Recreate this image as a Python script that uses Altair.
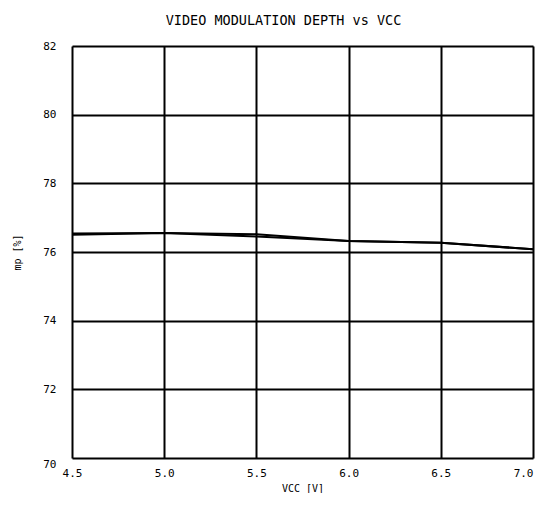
import altair as alt
import pandas as pd

vcc = [4.5, 5.0, 5.5, 6.0, 6.5, 7.0]
mp_a = [76.50, 76.55, 76.45, 76.32, 76.27, 76.08]
mp_b = [76.54, 76.55, 76.52, 76.32, 76.27, 76.08]

rows = []
for v, a in zip(vcc, mp_a):
    rows.append({"vcc": v, "mp": a, "s": "a"})
for v, b in zip(vcc, mp_b):
    rows.append({"vcc": v, "mp": b, "s": "b"})
df = pd.DataFrame(rows)

FONT = "DejaVu Sans Mono"

chart = alt.Chart(df).mark_line(color="black", strokeWidth=2).encode(
    x=alt.X("vcc:Q", scale=alt.Scale(domain=[4.5, 7.0], nice=False),
            axis=alt.Axis(title="VCC [V]", values=[4.5, 5.0, 5.5, 6.0, 6.5, 7.0],
                          format=".1f", grid=True, gridColor="black", gridWidth=2,
                          domain=False, ticks=False, labelPadding=9, labelFlush=False,
                          labelAlign=alt.condition("datum.value >= 7", alt.value("right"), alt.value("center")),
                          labelFontSize=11, labelFont=FONT, labelColor="black",
                          titleFont=FONT, titleFontSize=10, titleFontWeight="normal",
                          titleColor="black", titlePadding=5)),
    y=alt.Y("mp:Q", scale=alt.Scale(domain=[70, 82], nice=False),
            axis=alt.Axis(title="mp [%]", values=[70, 72, 74, 76, 78, 80, 82],
                          grid=True, gridColor="black", gridWidth=2,
                          domain=False, ticks=False, labelPadding=16,
                          labelBaseline=alt.condition("datum.value <= 70", alt.value("top"), alt.value("middle")),
                          labelFontSize=11, labelFont=FONT, labelColor="black",
                          titleFont=FONT, titleFontSize=10, titleFontWeight="normal",
                          titleColor="black", titlePadding=20)),
    detail="s:N",
).properties(
    width=461, height=412,
    padding={"left": 4, "top": 5, "right": 0, "bottom": 0},
    title=alt.TitleParams("VIDEO MODULATION DEPTH vs VCC", font=FONT, fontSize=13.5,
                          fontWeight="normal", color="black", offset=13, dx=-19),
).configure_view(stroke="black", strokeWidth=2.5).configure(background="white")

chart.save("out.html", embed_options={"renderer": "svg", "actions": False})
